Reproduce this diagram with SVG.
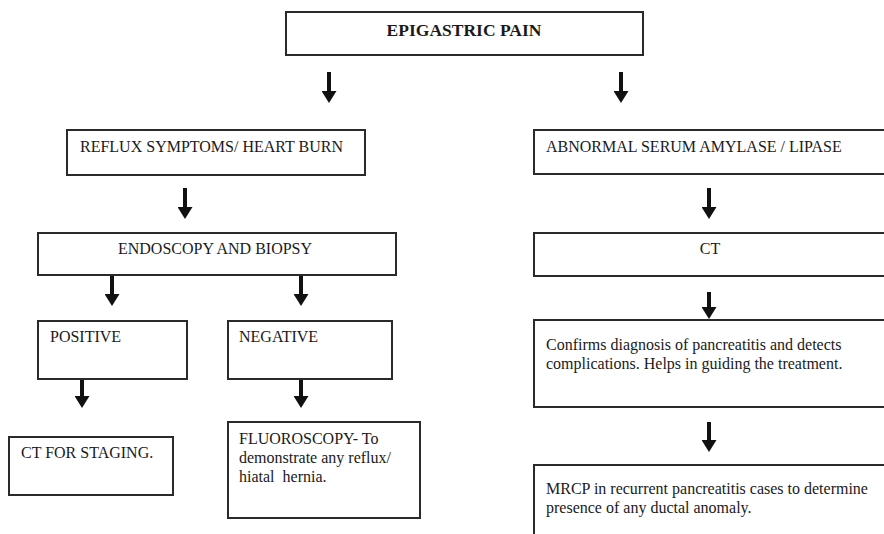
<svg xmlns="http://www.w3.org/2000/svg" width="884" height="534" viewBox="0 0 884 534">
  <style>
    .box { fill: #ffffff; stroke: #2a2a2a; stroke-width: 2; }
    .t { font-family: "Liberation Serif", "Times New Roman", serif; font-size: 16px; fill: #1a1a1a; }
    .b { font-weight: bold; font-size: 17.5px; }
    .arrow { stroke: #111111; stroke-width: 4; fill: none; marker-end: url(#head); }
  </style>
  <defs>
    <!-- solid triangular arrowhead, drawn along the stroke direction -->
    <marker id="head" markerUnits="userSpaceOnUse" viewBox="0 0 12 15" markerWidth="12" markerHeight="15" refX="0" refY="7.5" orient="auto">
      <path d="M0 0 L12 7.5 L0 15 Z" fill="#111111"/>
    </marker>
  </defs>
  <rect width="884" height="534" fill="#ffffff"/>

  <!-- flow arrows -->
  <g id="connectors">
    <path d="M329 72 V91" class="arrow"/>
    <path d="M621 72 V91" class="arrow"/>
    <path d="M185 188 V207" class="arrow"/>
    <path d="M709 188 V207" class="arrow"/>
    <path d="M112 276 V294" class="arrow"/>
    <path d="M301 276 V294" class="arrow"/>
    <path d="M709 292 V307" class="arrow"/>
    <path d="M82 379 V396" class="arrow"/>
    <path d="M301 379 V396" class="arrow"/>
    <path d="M709 422 V440" class="arrow"/>
  </g>

  <g id="epigastric-pain">
    <rect class="box" x="286" y="12" width="357" height="43"/>
    <text class="t b" x="464" y="36" text-anchor="middle">EPIGASTRIC PAIN</text>
  </g>

  <g id="reflux">
    <rect class="box" x="67" y="130" width="298" height="45"/>
    <text class="t" x="80" y="152">REFLUX SYMPTOMS/ HEART BURN</text>
  </g>

  <g id="amylase">
    <rect class="box" x="534" y="130" width="360" height="44"/>
    <text class="t" x="546" y="152">ABNORMAL SERUM AMYLASE / LIPASE</text>
  </g>

  <g id="endoscopy">
    <rect class="box" x="38" y="233" width="358" height="42"/>
    <text class="t" x="215" y="254" text-anchor="middle">ENDOSCOPY AND BIOPSY</text>
  </g>

  <g id="ct">
    <rect class="box" x="534" y="233" width="360" height="43"/>
    <text class="t" x="710" y="254" text-anchor="middle">CT</text>
  </g>

  <g id="positive">
    <rect class="box" x="38" y="321" width="149" height="58"/>
    <text class="t" x="50" y="342">POSITIVE</text>
  </g>

  <g id="negative">
    <rect class="box" x="228" y="321" width="164" height="58"/>
    <text class="t" x="239" y="342">NEGATIVE</text>
  </g>

  <g id="ct-findings">
    <rect class="box" x="534" y="320" width="360" height="87"/>
    <text class="t" x="546" y="350">Confirms diagnosis of pancreatitis and detects</text>
    <text class="t" x="546" y="369">complications. Helps in guiding the treatment.</text>
  </g>

  <g id="ct-staging">
    <rect class="box" x="9" y="437" width="164" height="58"/>
    <text class="t" x="21" y="458">CT FOR STAGING.</text>
  </g>

  <g id="fluoroscopy">
    <rect class="box" x="228" y="422" width="192" height="96"/>
    <text class="t" x="239" y="444">FLUOROSCOPY- To</text>
    <text class="t" x="239" y="463">demonstrate any reflux/</text>
    <text class="t" x="239" y="482" xml:space="preserve">hiatal  hernia.</text>
  </g>

  <g id="mrcp">
    <rect class="box" x="534" y="465" width="360" height="90"/>
    <text class="t" x="546" y="494">MRCP in recurrent pancreatitis cases to determine</text>
    <text class="t" x="546" y="513">presence of any ductal anomaly.</text>
  </g>
</svg>
